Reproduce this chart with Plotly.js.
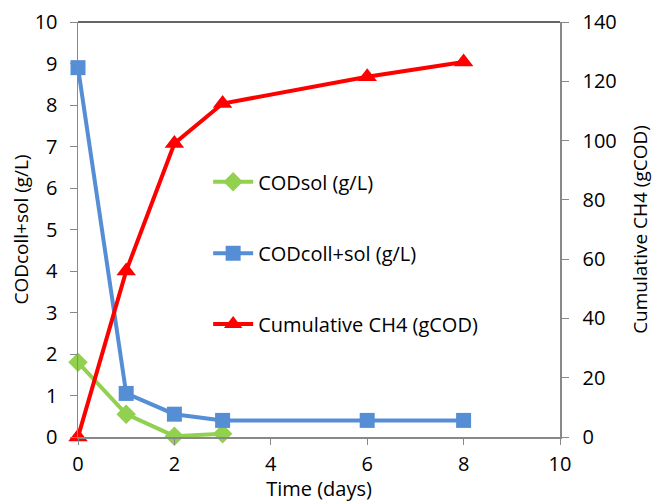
<!DOCTYPE html>
<html><head><meta charset="utf-8">
<script src="https://cdn.plot.ly/plotly-3.0.1.min.js"></script>
<style>html,body{margin:0;padding:0;background:#fff}#chart{width:653px;height:502px}</style>
</head><body><div id="chart"></div>
<script>
const daysSol = [0, 1, 2, 3];
const codSol = [1.8, 0.55, 0.02, 0.08];
const daysColl = [0, 1, 2, 3, 6, 8];
const codCollSol = [8.9, 1.05, 0.55, 0.4, 0.4, 0.4];
const daysCH4 = [0, 1, 2, 3, 6, 8];
const ch4Cum = [0, 56, 99, 112.5, 121.5, 126.5];
const names = ["CODsol (g/L)", "CODcoll+sol (g/L)", "Cumulative CH4 (gCOD)"];

const F = "'Open Sans', sans-serif";
const traces = [
  {x: daysSol, y: codSol, name: names[0], mode: "lines+markers", legend: "legend", cliponaxis: false,
   line: {color: "#92D050", width: 4}, marker: {symbol: "diamond", size: 15, color: "#92D050"}},
  {x: daysColl, y: codCollSol, name: names[1], mode: "lines+markers", legend: "legend2", cliponaxis: false,
   line: {color: "#558ED5", width: 4}, marker: {symbol: "square", size: 15, color: "#558ED5"}},
  {x: daysCH4, y: ch4Cum, name: names[2], mode: "lines+markers", yaxis: "y2", legend: "legend3", cliponaxis: false,
   line: {color: "#FF0000", width: 4}, marker: {symbol: "triangle-up", size: 17, color: "#FF0000"}}
];
const legBase = {xanchor: "left", yanchor: "middle", bgcolor: "rgba(0,0,0,0)", font: {family: F, size: 20, color: "#000"}, itemwidth: 40};
const layout = {
  width: 653, height: 502,
  margin: {l: 78, r: 93, t: 22, b: 65},
  paper_bgcolor: "#fff", plot_bgcolor: "#fff",
  font: {family: F, size: 20, color: "#000"},
  xaxis: {range: [0, 10], dtick: 2, tick0: 0, showgrid: false, zeroline: false,
          showline: true, linecolor: "#888", linewidth: 1.5, ticks: "outside", ticklen: 6, tickcolor: "#888",
          ticklabelstandoff: 2, tickfont: {size: 20},
          title: {text: "Time (days)", font: {family: F, size: 20}, standoff: 4}},
  yaxis: {range: [0, 10], dtick: 1, showgrid: false, zeroline: false,
          showline: true, linecolor: "#888", linewidth: 1.5, ticks: "outside", ticklen: 7, tickcolor: "#888",
          ticklabelstandoff: 8, tickfont: {size: 20},
          title: {text: "CODcoll+sol (g/L)", font: {family: F, size: 19}, standoff: 1}},
  yaxis2: {range: [0, 140], dtick: 20, overlaying: "y", side: "right", showgrid: false, zeroline: false,
          showline: true, linecolor: "#888", linewidth: 1.5, ticks: "outside", ticklen: 7, tickcolor: "#888",
          ticklabelstandoff: 10, tickfont: {size: 20},
          title: {text: "Cumulative CH4 (gCOD)", font: {family: F, size: 19}, standoff: 21}},
  showlegend: true,
  legend: Object.assign({x: 0.27, y: 0.615}, legBase),
  legend2: Object.assign({x: 0.27, y: 0.443}, legBase),
  legend3: Object.assign({x: 0.27, y: 0.272}, legBase),
  shapes: [{type: "line", xref: "paper", yref: "paper", x0: 0, x1: 1, y0: 1, y1: 1, line: {color: "#333", width: 1.5}}]
};
Plotly.newPlot("chart", traces, layout, {displayModeBar: false, staticPlot: true});
</script></body></html>
